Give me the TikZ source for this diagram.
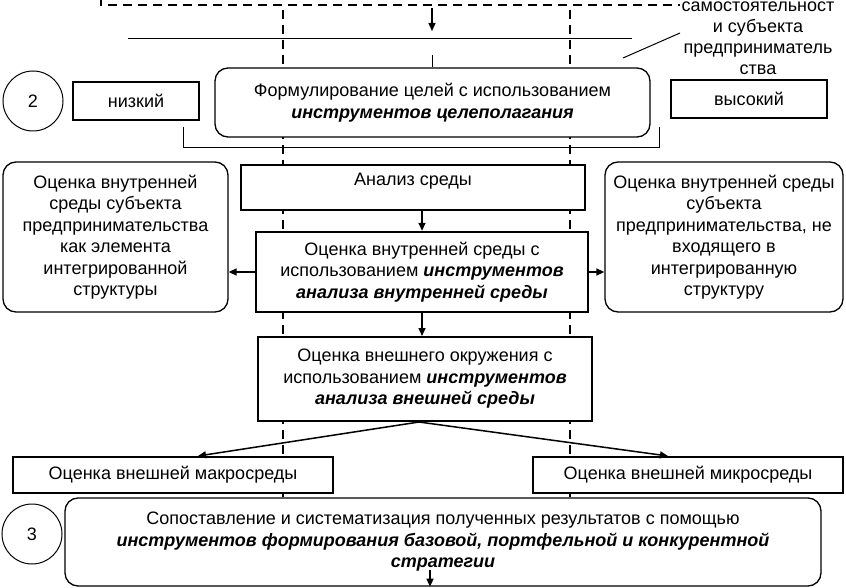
\documentclass[tikz,border=0pt]{standalone}
\usepackage{fontspec}
\setmainfont{Liberation Sans}
\usetikzlibrary{arrows.meta}
\begin{document}
\begin{tikzpicture}[x=1pt,y=-1pt,
  font=\fontsize{18}{21.5}\selectfont,
  box/.style={draw, line width=2pt, fill=white, inner sep=0pt, align=center},
  rbox/.style={draw, line width=1.3pt, fill=white, inner sep=0pt, align=center, rounded corners=13pt},
  circ/.style={draw, circle, line width=1pt, minimum size=60pt, inner sep=0pt},
  dline/.style={line width=1.5pt, dash pattern=on 9pt off 6pt},
  arr/.style={-{Triangle[length=8pt,width=7pt]}, line width=1.5pt},
  thin/.style={line width=1pt}]
\useasboundingbox (0,0) rectangle (846,588);
% dashed guides
\coordinate (t0) at (101,-3);
\coordinate (t1) at (101,5);
\coordinate (t2) at (680,5);
\draw[dline] (t0) -- (t1) -- (t2);
\coordinate (d1a) at (283,10); \coordinate (d1b) at (283,497);
\coordinate (d2a) at (570,10); \coordinate (d2b) at (570,497);
\draw[dline] (d1a) -- (d1b);
\draw[dline] (d2a) -- (d2b);
% top
\coordinate (a0) at (432,8); \coordinate (a1) at (432,31);
\draw[arr] (a0) -- (a1);
\coordinate (h0) at (128,39); \coordinate (h1) at (632,39);
\draw[thin] (h0) -- (h1);
\coordinate (g0) at (623,58); \coordinate (g1) at (680,33);
\draw[thin] (g0) -- (g1);
\node[align=center, font=\fontsize{18}{21}\selectfont] (note) at (758,38) {самостоятельност\\и субъекта\\предприниматель\\ства};
% row 2
\node[circ] (c2) at (33,101) {2};
\node[box, minimum width=126pt, minimum height=38pt] (low) at (136,101) {низкий};
\node[box, minimum width=156pt, minimum height=38pt] (high) at (749,99) {высокий};
\coordinate (b0) at (183,127); \coordinate (b1) at (183,148);
\coordinate (b2) at (659,148); \coordinate (b3) at (659,127);
\draw[thin] (b0) -- (b1) -- (b2) -- (b3);
\coordinate (v0) at (432.5,55);
\node[rbox, minimum width=435pt, minimum height=69pt] (goal) at (432.5,102.5) {Формулирование целей с использованием\\\textbf{\textit{инструментов целеполагания}}};
\draw[thin] (v0) -- (goal.north);
% middle
\node[box, minimum width=344pt, minimum height=45pt] (an) at (413,187.5) {Анализ среды\\[-12pt]\strut};
\node[box, line width=2.4pt, minimum width=332pt, minimum height=80pt] (vn) at (422,272) {Оценка внутренней среды с\\использованием \textbf{\textit{инструментов}}\\\textbf{\textit{анализа внутренней среды}}};
\node[rbox, minimum width=225pt, minimum height=150pt] (lv) at (115.5,237) {Оценка внутренней\\среды субъекта\\предпринимательства\\как элемента\\интегрированной\\структуры};
\node[rbox, minimum width=238pt, minimum height=150pt] (rv) at (724,237) {Оценка внутренней среды\\субъекта\\предпринимательства, не\\входящего в\\интегрированную\\структуру};
\node[box, minimum width=334pt, minimum height=84pt] (ext) at (425,379) {Оценка внешнего окружения с\\использованием \textbf{\textit{инструментов}}\\\textbf{\textit{анализа внешней среды}}};
\draw[arr] (an.south -| vn.north) -- (vn.north);
\draw[arr] (vn.west) -- (vn.west -| lv.east);
\draw[arr] (vn.east) -- (vn.east -| rv.west);
\draw[arr] (vn.south) -- (vn.south |- ext.north);
% lower
\node[box, minimum width=320pt, minimum height=36pt] (macro) at (173,475) {Оценка внешней макросреды};
\node[box, minimum width=310pt, minimum height=36pt] (micro) at (688,475) {Оценка внешней микросреды};
\coordinate (apex) at ([xshift=-6pt]ext.south);
\draw[arr] (apex) -- ([xshift=25pt]macro.north);
\draw[arr] (apex) -- ([xshift=-20pt]micro.north);
% bottom
\node[circ] (c3) at (32,534) {3};
\node[rbox, minimum width=756pt, minimum height=88pt] (sum) at (443,542) {Сопоставление и систематизация полученных результатов с помощью\\\textbf{\textit{инструментов формирования базовой, портфельной и конкурентной}}\\\textbf{\textit{стратегии}}};
\coordinate (s0) at (430,570);
\draw[arr] (s0) -- (s0 |- sum.south);
\end{tikzpicture}
\end{document}
